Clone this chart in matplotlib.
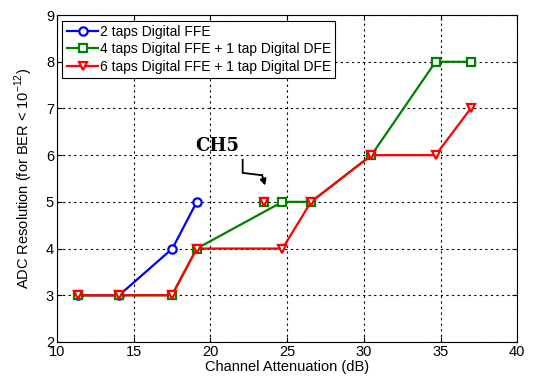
import matplotlib
matplotlib.use("Agg")
import matplotlib.pyplot as plt

plt.rcParams['font.family'] = ['Liberation Sans', 'DejaVu Sans']

# attenuation (dB) and required ADC bits for each equalizer setup
atten_ffe2 = [11.4, 14.06, 17.53, 19.12]
bits_ffe2 = [3, 3, 4, 5]

atten_ffe4 = [11.4, 14.06, 17.5, 19.12, 24.7, 26.57, 30.5, 34.68, 36.97]
bits_ffe4 = [3, 3, 3, 4, 5, 5, 6, 8, 8]

atten_ffe6 = [11.4, 14.06, 17.5, 19.12, 24.7, 26.57, 30.5, 34.68, 36.97]
bits_ffe6 = [3, 3, 3, 4, 4, 5, 6, 6, 7]

# channel 5 measured separately
ch5_atten = [23.5]
ch5_bits = [5]

labels = ['2 taps Digital FFE',
          '4 taps Digital FFE + 1 tap Digital DFE',
          '6 taps Digital FFE + 1 tap Digital DFE']

fig = plt.figure(figsize=(5.36, 3.77), dpi=100)
ax = fig.add_axes([0.106, 0.093, 0.859, 0.867])

mk = dict(markerfacecolor='white', markersize=6, markeredgewidth=1.6, linewidth=1.6)
ax.plot(atten_ffe2, bits_ffe2, '-o', color='blue', label=labels[0], **mk)
ax.plot(atten_ffe4, bits_ffe4, '-s', color='green', label=labels[1], **mk)
ax.plot(atten_ffe6, bits_ffe6, '-v', color='red', label=labels[2], **mk)
ax.plot(ch5_atten, ch5_bits, 's', color='green', markerfacecolor='white',
        markersize=6, markeredgewidth=1.6)
ax.plot(ch5_atten, ch5_bits, 'v', color='red', markerfacecolor='white',
        markersize=6, markeredgewidth=1.6)

# CH5 label with bent pointer
ax.text(19.05, 6.08, 'CH5', family='DejaVu Serif', fontweight='bold', fontsize=13)
ax.plot([22.11, 22.11, 23.37], [5.9, 5.62, 5.57], color='black', lw=1.3)
ax.annotate('', xy=(23.57, 5.35), xytext=(23.37, 5.58),
            arrowprops=dict(arrowstyle='-|>', color='black', lw=1.3,
                            mutation_scale=9, shrinkA=0, shrinkB=0))

ax.set_xlim(10, 40)
ax.set_ylim(2, 9)
ax.set_xticks(range(10, 41, 5))
ax.set_yticks(range(2, 10))
ax.grid(True, color='black', linestyle=(0, (2, 3)), linewidth=0.8)
ax.tick_params(direction='in', top=True, right=True, labelsize=10.5, pad=2)
for s in ax.spines.values():
    s.set_linewidth(0.8)

ax.set_xlabel('Channel Attenuation (dB)', fontsize=10.5, labelpad=1)
ax.set_ylabel('ADC Resolution (for BER < 10$^{\\mathregular{-12}}$)', fontsize=10.5, labelpad=8)

leg = ax.legend(loc='upper left', fontsize=10, fancybox=False, framealpha=1,
                edgecolor='black', borderpad=0.3, labelspacing=0.25,
                handlelength=2.3, handletextpad=0.1, borderaxespad=0.4)
leg.get_frame().set_linewidth(0.8)

fig.savefig('out.png', dpi=100)
